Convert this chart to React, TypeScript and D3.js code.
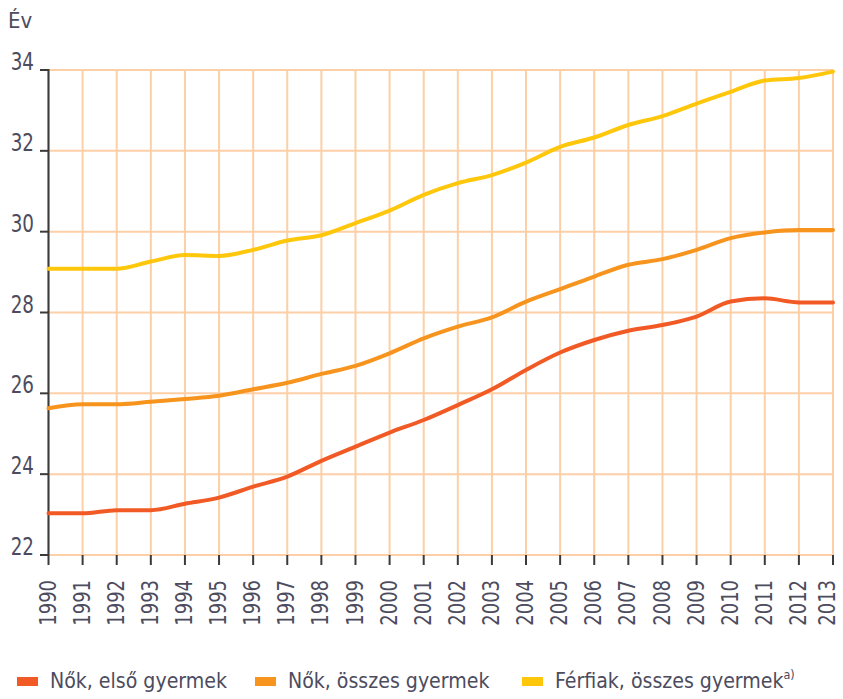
import React from "react";
import * as d3 from "d3";

const years = [1990, 1991, 1992, 1993, 1994, 1995, 1996, 1997, 1998, 1999, 2000, 2001, 2002, 2003, 2004, 2005, 2006, 2007, 2008, 2009, 2010, 2011, 2012, 2013];
const nokElso = [23.03, 23.03, 23.11, 23.11, 23.27, 23.42, 23.69, 23.94, 24.33, 24.68, 25.03, 25.34, 25.71, 26.1, 26.58, 27.01, 27.32, 27.55, 27.69, 27.9, 28.27, 28.35, 28.25, 28.25];
const nokOsszes = [25.63, 25.73, 25.73, 25.79, 25.86, 25.94, 26.1, 26.26, 26.48, 26.68, 26.99, 27.36, 27.65, 27.88, 28.27, 28.58, 28.89, 29.18, 29.32, 29.55, 29.84, 29.98, 30.04, 30.04];
const ferfiakOsszes = [29.08, 29.08, 29.08, 29.26, 29.42, 29.4, 29.55, 29.78, 29.91, 30.21, 30.52, 30.91, 31.2, 31.4, 31.71, 32.1, 32.33, 32.64, 32.86, 33.17, 33.46, 33.74, 33.8, 33.96];
const yTicks = [22, 24, 26, 28, 30, 32, 34];
const seriesNames = ["Nők, első gyermek", "Nők, összes gyermek", "Férfiak, összes gyermek"];
const seriesColors = ["#f15a24", "#f7941d", "#ffc70b"];
const yTitle = "Év";

const W = 843;
const H = 699;
const font = "'DejaVu Sans Condensed', 'Noto Sans', sans-serif";
const textColor = "#4c4c5e";
const gridColor = "#fdcfa6";

export default function App() {
  const x = d3.scaleLinear().domain([1990, 2013]).range([48.5, 833]);
  const y = d3.scaleLinear().domain([22, 34]).range([555, 70]);
  const series = [nokElso, nokOsszes, ferfiakOsszes];
  const line = d3
    .line<number>()
    .x((_, i) => x(years[i]))
    .y((d) => y(d))
    .curve(d3.curveMonotoneX);

  const legendX = [17, 255, 522];

  return (
    <div>
      <style>{`body{margin:0}`}</style>
      <svg width={W} height={H} style={{ display: "block", background: "#fff" }} fontFamily={font}>
        {/* grid */}
        {years.map((yr) => (
          <line key={"v" + yr} x1={x(yr)} x2={x(yr)} y1={y(34)} y2={y(22)} stroke={gridColor} strokeWidth={2} />
        ))}
        {yTicks.map((t) => (
          <line key={"h" + t} x1={x(1990)} x2={x(2013)} y1={y(t)} y2={y(t)} stroke={gridColor} strokeWidth={2} />
        ))}
        {/* y axis */}
        <line x1={x(1990)} x2={x(1990)} y1={y(34) - 1} y2={y(22)} stroke="#3a3a3a" strokeWidth={2} />
        {yTicks.map((t) => (
          <g key={"yt" + t}>
            <line x1={40} x2={x(1990)} y1={y(t)} y2={y(t)} stroke="#3a3a3a" strokeWidth={2} />
            <text transform={`translate(34,${y(t)}) scale(0.85,1)`} textAnchor="end" fontSize={24} fill={textColor}>
              {t}
            </text>
          </g>
        ))}
        {/* x ticks */}
        {years.map((yr, i) => (
          <g key={"xt" + yr}>
            <line x1={x(yr)} x2={x(yr)} y1={y(22)} y2={y(22) + 10} stroke="#3a3a3a" strokeWidth={2} />
            <text
              transform={`translate(${x(yr) - (i === years.length - 1 ? 5 : 0)},${580}) rotate(-90) scale(0.85,1)`}
              textAnchor="end"
              dy="0.3em"
              fontSize={23.5}
              fill={textColor}
            >
              {yr}
            </text>
          </g>
        ))}
        {/* lines */}
        {series.map((s, i) => (
          <path key={"s" + i} d={line(s) || ""} fill="none" stroke={seriesColors[i]} strokeWidth={4} strokeLinejoin="round" strokeLinecap="round" />
        ))}
        {/* title */}
        <text x={8} y={28} fontSize={22} fill={textColor}>
          {yTitle}
        </text>
        {/* legend */}
        {seriesNames.map((n, i) => (
          <g key={"lg" + i}>
            <rect x={legendX[i]} y={677} width={21} height={9} fill={seriesColors[i]} />
            <text transform={`translate(${legendX[i] + 33},688) scale(0.96,1)`} fontSize={22} fill={textColor}>
              {n}
              {i === 2 ? (
                <tspan fontSize={13} dy={-9}>
                  a)
                </tspan>
              ) : null}
            </text>
          </g>
        ))}
      </svg>
    </div>
  );
}
